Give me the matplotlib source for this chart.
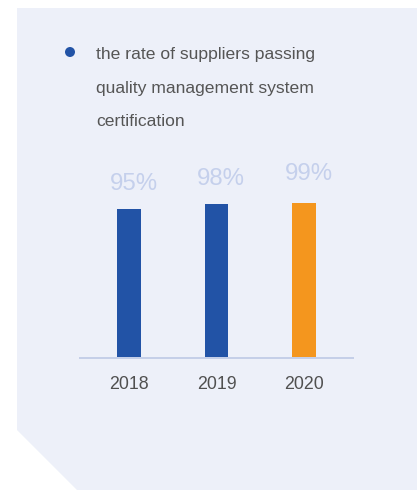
import matplotlib
matplotlib.use("Agg")
import matplotlib.pyplot as plt
from matplotlib.patches import Polygon, Ellipse

years = ["2018", "2019", "2020"]
values = [95, 98, 99]
value_labels = ["95%", "98%", "99%"]
title_lines = ["the rate of suppliers passing",
               "quality management system",
               "certification"]

bar_colors = ["#2253A6", "#2253A6", "#F4961E"]
label_offsets_px = [25, 25, 29]
label_dx_px = 4.5

W, H = 417, 490
DPI = 100
fig = plt.figure(figsize=(W / DPI, H / DPI), dpi=DPI)
fig.patch.set_facecolor("white")

def fx(x):
    return x / W

def fy(y):
    return 1 - y / H

panel_color = "#EDF0F9"
poly = Polygon([(fx(17), fy(8)), (fx(417), fy(8)), (fx(417), fy(490)),
                (fx(77), fy(490)), (fx(17), fy(430))],
               closed=True, transform=fig.transFigure,
               facecolor=panel_color, edgecolor="none", zorder=-5)
fig.patches.append(poly)

fig.patches.append(Ellipse((fx(70), fy(52)), 10 / W, 10 / H, transform=fig.transFigure,
                           facecolor="#2253A6", edgecolor="none", zorder=2))

font = ["Liberation Sans", "DejaVu Sans"]
for i, line in enumerate(title_lines):
    fig.text(fx(96), fy(54 + 34 * i), line, ha="left", va="center",
             fontsize=12.6, color="#555555", family=font)

# axes
ax_left, ax_right = 80, 353
ax_bottom = 358
px_per_unit = 1.567
ymax = 160
ax_h = ymax * px_per_unit
ax = fig.add_axes([fx(ax_left), fy(ax_bottom), (ax_right - ax_left) / W, ax_h / H])
ax.set_facecolor("none")
ax.set_zorder(1)
x = list(range(len(years)))
ax.bar(x, values, width=0.274, color=bar_colors, zorder=2)
ax.set_xlim(-0.56, 2.56)
ax.set_ylim(0, ymax)
for s in ["top", "right", "left"]:
    ax.spines[s].set_visible(False)
ax.spines["bottom"].set_color("#C5CFE8")
ax.spines["bottom"].set_linewidth(2.0 * 72 / DPI)
ax.spines["bottom"].set_zorder(3)
ax.set_yticks([])
ax.set_xticks(x)
ax.set_xticklabels(years, fontsize=12.8, color="#505050", family=font)
ax.tick_params(axis="x", length=0, pad=13)

for xi, v, lab, off in zip(x, values, value_labels, label_offsets_px):
    ax.annotate(lab, (xi, v), xytext=(label_dx_px * 72 / DPI, off * 72 / DPI),
                textcoords="offset points",
                ha="center", va="center", fontsize=17.3, color="#C5D0EC", family=font,
                annotation_clip=False)

fig.savefig("out.png", dpi=DPI)
